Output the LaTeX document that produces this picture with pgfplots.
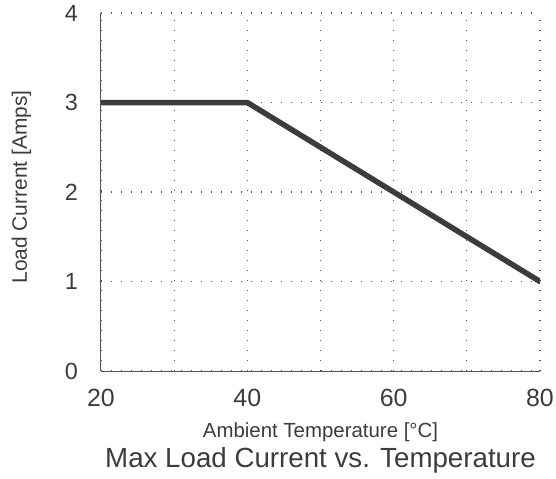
\documentclass[border=0pt]{standalone}
\usepackage{pgfplots}
\pgfplotsset{compat=1.18}
\usepackage{fontspec}
\setmainfont{Liberation Sans}
\definecolor{ink}{HTML}{3C3C3C}
\definecolor{gridgray}{HTML}{555555}
\begin{document}
\begin{tikzpicture}
\begin{axis}[
  name=ax,
  scale only axis, width=439bp, height=358bp,
  xmin=20, xmax=80, ymin=0, ymax=4,
  axis x line*=bottom, axis y line*=left,
  axis line style={gridgray, line width=1bp},
  xtick={20,30,...,80}, xticklabels={20,,40,,60,,80},
  ytick={0,1,2,3,4},
  major tick length=0pt,
  grid=major,
  grid style={gridgray, line width=1.3bp, dash pattern=on 1.3bp off 8.7bp},
  /pgf/number format/assume math mode=true,
  xticklabel style={font=\fontsize{25}{25}\selectfont, text=ink, anchor=base, inner sep=0pt, yshift=-35bp},
  yticklabel style={font=\fontsize{23.5}{23.5}\selectfont, text=ink, anchor=east, inner sep=0pt, xshift=-23bp},
  xlabel={Ambient Temperature [°C]},
  xlabel style={font=\fontsize{20.5}{20.5}\selectfont, text=ink, at={(axis description cs:0.5,0)}, anchor=base, yshift=-66bp, inner sep=0pt},
  ylabel={Load Current [Amps]},
  ylabel style={font=\fontsize{21}{21}\selectfont, text=ink, at={(axis description cs:-0.1686,0.514)}, anchor=base, inner sep=0pt},
  title={Max Load Current vs. Temperature},
  title style={font=\fontsize{27.8}{27.8}\selectfont, text=ink, at={(axis description cs:0.5,0)}, anchor=base, yshift=-102bp, inner sep=0pt},
]
\addplot[ink, line width=5.5bp, line cap=round, line join=round] coordinates {(20,3) (40,3) (80,1)};
\end{axis}
\pgfresetboundingbox
\path ([xshift=-101bp,yshift=-108bp]ax.south west) rectangle ([xshift=16bp,yshift=13bp]ax.north east);
\end{tikzpicture}
\end{document}
